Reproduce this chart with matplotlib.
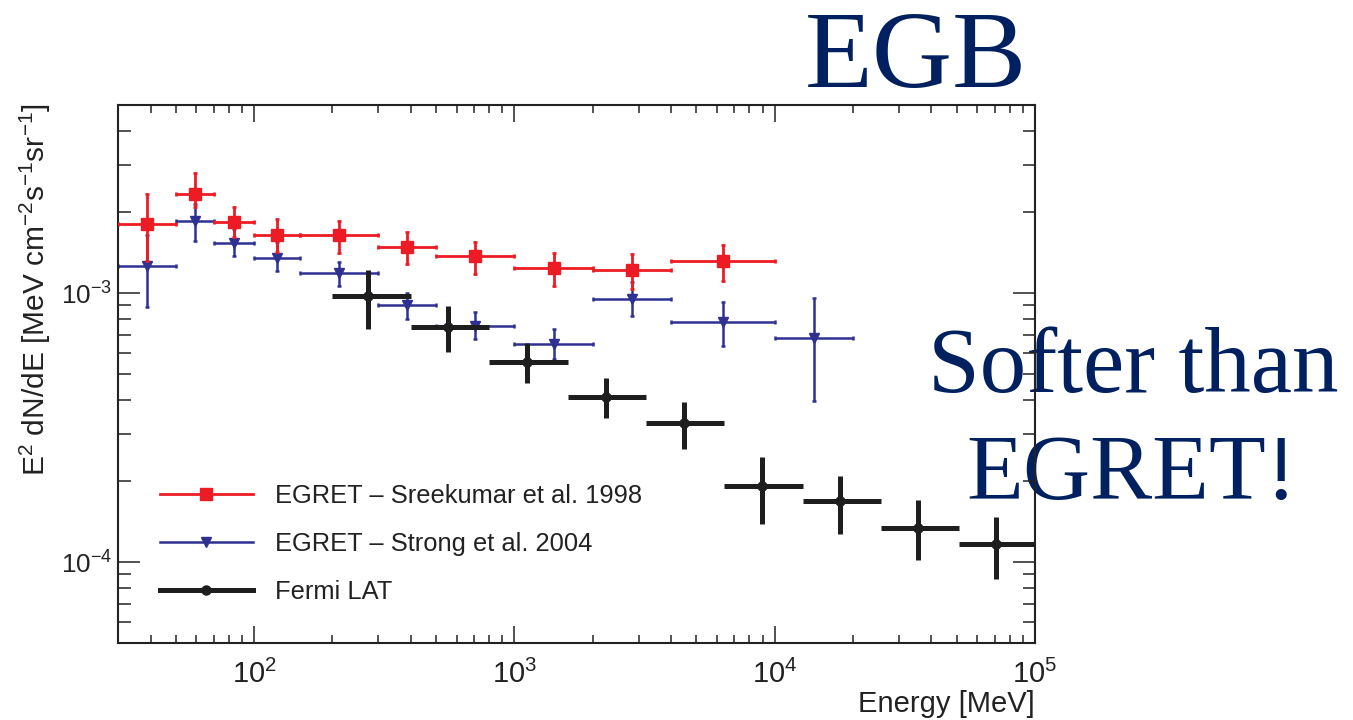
import numpy as np
import matplotlib
matplotlib.use("Agg")
import matplotlib.pyplot as plt
from matplotlib.lines import Line2D
from matplotlib.ticker import NullFormatter

plt.rcParams['font.family'] = ['Liberation Sans', 'DejaVu Sans']
plt.rcParams['mathtext.fontset'] = 'custom'
plt.rcParams['mathtext.rm'] = 'Liberation Sans'
plt.rcParams['mathtext.it'] = 'Liberation Sans:italic'
plt.rcParams['mathtext.default'] = 'regular'

# EGRET, Sreekumar et al. 1998 (energy bins in MeV, E^2 dN/dE in MeV cm^-2 s^-1 sr^-1)
sreek_lo = [30, 50, 70, 100, 150, 300, 500, 1000, 2000, 4000]
sreek_hi = [50, 70, 100, 150, 300, 500, 1000, 2000, 4000, 10000]
sreek_e = [38.7, 59.2, 83.7, 122.5, 212, 387, 707, 1414, 2828, 6325]
sreek_flux = [1.80e-3, 2.33e-3, 1.84e-3, 1.65e-3, 1.64e-3, 1.48e-3, 1.37e-3, 1.24e-3, 1.22e-3, 1.31e-3]
sreek_up = [2.34e-3, 2.80e-3, 2.09e-3, 1.89e-3, 1.85e-3, 1.69e-3, 1.55e-3, 1.41e-3, 1.40e-3, 1.51e-3]
sreek_dn = [1.31e-3, 2.08e-3, 1.61e-3, 1.42e-3, 1.41e-3, 1.28e-3, 1.18e-3, 1.065e-3, 1.035e-3, 1.11e-3]

# EGRET, Strong et al. 2004
strong_lo = [30, 50, 70, 100, 150, 300, 500, 1000, 2000, 4000, 10000]
strong_hi = [50, 70, 100, 150, 300, 500, 1000, 2000, 4000, 10000, 20000]
strong_e = [38.7, 59.2, 83.7, 122.5, 212, 387, 707, 1414, 2828, 6325, 14142]
strong_flux = [1.264e-3, 1.86e-3, 1.537e-3, 1.347e-3, 1.184e-3, 9.05e-4, 7.55e-4, 6.45e-4, 9.5e-4, 7.78e-4, 6.78e-4]
strong_up = [1.64e-3, 2.15e-3, 1.73e-3, 1.546e-3, 1.30e-3, 1.0e-3, 8.47e-4, 7.38e-4, 1.096e-3, 9.28e-4, 9.55e-4]
strong_dn = [8.84e-4, 1.567e-3, 1.378e-3, 1.205e-3, 1.064e-3, 8.0e-4, 6.74e-4, 5.67e-4, 8.19e-4, 6.36e-4, 3.96e-4]

# Fermi LAT
fermi_lo = [200, 400, 800, 1600, 3200, 6400, 12800, 25600, 51200]
fermi_hi = [400, 800, 1600, 3200, 6400, 12800, 25600, 51200, 102400]
fermi_e = [275, 555, 1118, 2240, 4500, 8930, 17800, 35600, 70800]
fermi_flux = [9.77e-4, 7.49e-4, 5.56e-4, 4.115e-4, 3.29e-4, 1.921e-4, 1.679e-4, 1.336e-4, 1.167e-4]
fermi_up = [1.219e-3, 8.97e-4, 6.51e-4, 4.84e-4, 3.93e-4, 2.46e-4, 2.094e-4, 1.703e-4, 1.476e-4]
fermi_dn = [7.33e-4, 6.04e-4, 4.62e-4, 3.42e-4, 2.63e-4, 1.387e-4, 1.272e-4, 1.017e-4, 8.62e-5]

labels = ["EGRET \u2013 Sreekumar et al. 1998", "EGRET \u2013 Strong et al. 2004", "Fermi LAT"]

red = '#ed1c24'
blue = '#2e3192'
black = '#1e1e1e'
navy = '#002060'


def errs(e, lo, hi, flux, dn, up):
    e, lo, hi = np.array(e), np.array(lo), np.array(hi)
    flux, dn, up = np.array(flux), np.array(dn), np.array(up)
    return e, flux, [e - lo, hi - e], [flux - dn, up - flux]


fig = plt.figure(figsize=(13.53, 7.2), dpi=100)
ax = fig.add_axes([0.08721, 0.10694, 0.67776, 0.74722])
ax.patch.set_alpha(0)

x, y, xe, ye = errs(strong_e, strong_lo, strong_hi, strong_flux, strong_dn, strong_up)
ax.errorbar(x, y, xerr=xe, yerr=ye, fmt='v', color=blue, ms=7, elinewidth=1.8,
            capsize=1.6, capthick=1.8, zorder=2)

x, y, xe, ye = errs(sreek_e, sreek_lo, sreek_hi, sreek_flux, sreek_dn, sreek_up)
ax.errorbar(x, y, xerr=xe, yerr=ye, fmt='s', color=red, ms=8.5, elinewidth=2,
            capsize=1.6, capthick=2, zorder=3)

x, y, xe, ye = errs(fermi_e, fermi_lo, fermi_hi, fermi_flux, fermi_dn, fermi_up)
ax.errorbar(x, y, xerr=xe, yerr=ye, fmt='o', color=black, ms=6.5, elinewidth=3.6,
            capsize=0, zorder=4)

ax.set_xscale('log')
ax.set_yscale('log')
ax.set_xlim(30, 1e5)
ax.set_ylim(5e-5, 5e-3)
ax.xaxis.set_minor_formatter(NullFormatter())
ax.yaxis.set_minor_formatter(NullFormatter())

for s in ax.spines.values():
    s.set_linewidth(1.5)
    s.set_color('#222222')
ax.tick_params(which='both', direction='in', top=True, right=True, width=1.1,
               color='#222222', labelcolor='#222222')
ax.tick_params(axis='x', which='major', length=12, pad=12, labelsize=21)
ax.tick_params(axis='x', which='minor', length=6)
ax.tick_params(axis='y', which='major', length=16, pad=4, labelsize=18.7)
ax.tick_params(axis='y', which='minor', length=9)

# axis titles, ROOT style: flush with the frame ends
fig.text(35 / 1353, 1 - 103 / 720, r'E$^{2}$ dN/dE [MeV cm$^{-2}$s$^{-1}$sr$^{-1}$]',
         rotation=90, ha='center', va='top', fontsize=21.5, color='#222222')
fig.text(1035 / 1353, 1 - 712 / 720, 'Energy [MeV]', ha='right', va='baseline',
         fontsize=21, color='#222222')

handles = [
    Line2D([], [], color=red, lw=2, marker='s', ms=8.5),
    Line2D([], [], color=blue, lw=1.8, marker='v', ms=7),
    Line2D([], [], color=black, lw=3.6, marker='o', ms=6.5),
]
ax.legend(handles, labels, loc='upper left', bbox_to_anchor=(160 / 1353, 1 - 484 / 720),
          bbox_transform=fig.transFigure, frameon=False, fontsize=18.4,
          handlelength=3.63, handletextpad=0.86, labelspacing=0.93,
          borderpad=0, borderaxespad=0, labelcolor='#222222')

# slide annotations
fig.text(805 / 1353, 1 - 86.7 / 720, 'EGB', family='Liberation Serif', fontsize=80,
         color=navy, ha='left', va='baseline', zorder=-1)
fig.text(1133 / 1353, 1 - 391.7 / 720, 'Softer than', family='Liberation Serif',
         fontsize=67, color=navy, ha='center', va='baseline', zorder=-1)
fig.text(1132 / 1353, 1 - 499.3 / 720, 'EGRET!', family='Liberation Serif',
         fontsize=67, color=navy, ha='center', va='baseline', zorder=-1)

fig.savefig('out.png', dpi=100)
